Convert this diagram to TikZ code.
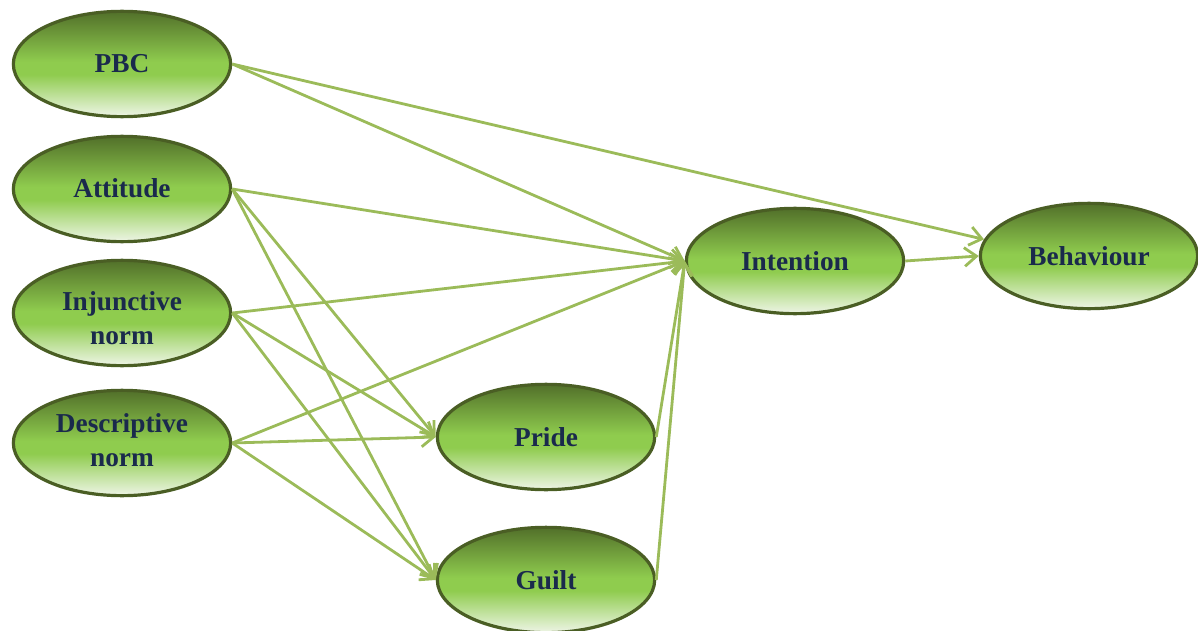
\documentclass[tikz,border=0pt]{standalone}
\usepackage{fontspec}
\setmainfont{Liberation Serif}
\usetikzlibrary{arrows.meta,shapes.geometric}

\definecolor{ovalline}{HTML}{4A5E24}
\definecolor{ovaltop}{HTML}{52702A}
\definecolor{ovalmid}{HTML}{8FCC4E}
\definecolor{ovalbot}{HTML}{EEF5E6}
\definecolor{linkgreen}{HTML}{9BBB59}
\definecolor{labelnavy}{HTML}{1A2A4C}

% vertical fill: light at the bottom, bright green in the middle, olive at the top
\pgfdeclareverticalshading{ovalfill}{100bp}{%
  color(0bp)=(ovalbot); color(25bp)=(ovalbot); color(45bp)=(ovalmid);
  color(51bp)=(ovalmid); color(75bp)=(ovaltop); color(100bp)=(ovaltop)}

\tikzset{
  labeltext/.style={align=center, text=labelnavy, inner sep=0pt,
    font=\bfseries\fontsize{20.5}{25.5}\selectfont},
  construct/.style={labeltext, ellipse, draw=ovalline, line width=2.4pt,
    shading=ovalfill, minimum width=163pt, minimum height=79pt},
  link/.style={draw=linkgreen, line width=2.1pt,
    -{Straight Barb[length=9pt,width=14pt,line width=2.1pt]}},
}

\begin{document}
\begin{tikzpicture}[x=0.75pt,y=-0.75pt]
\useasboundingbox (0,0) rectangle (1198,631);

% constructs
\node[construct] (pbc)  at (122,64)  {PBC};
\node[construct] (att)  at (122,189) {\raisebox{2pt}{Attitude}};
\node[construct] (inj)  at (122,313) {};
\node[labeltext] (injtext) at (122,318) {Injunctive\\norm};
\node[construct] (desc) at (122,443) {};
\node[labeltext] (desctext) at (122,440) {Descriptive\\norm};
\node[construct] (pride) at (546,437) {Pride};
\node[construct] (guilt) at (546,580) {Guilt};
\node[construct] (intent) at (795,261) {Intention};
\node[construct] (beh)  at (1089,256) {Behaviour};

% paths
\draw[link] (pbc.east) -- (intent.west);
\draw[link] (pbc.east) -- (beh.171);
\draw[link] (att.east) -- (intent.west);
\draw[link] (att.east) -- (pride.west);
\draw[link] (att.east) -- (guilt.west);
\draw[link] (inj.east) -- (intent.west);
\draw[link] (inj.east) -- (pride.west);
\draw[link] (inj.east) -- (guilt.west);
\draw[link] (desc.east) -- (intent.west);
\draw[link] (desc.east) -- (pride.west);
\draw[link] (desc.east) -- (guilt.west);
\draw[link] (pride.east) -- (intent.west);
\draw[link] (guilt.east) -- (intent.west);
\draw[link] (intent.east) -- (beh.west);
\end{tikzpicture}
\end{document}
